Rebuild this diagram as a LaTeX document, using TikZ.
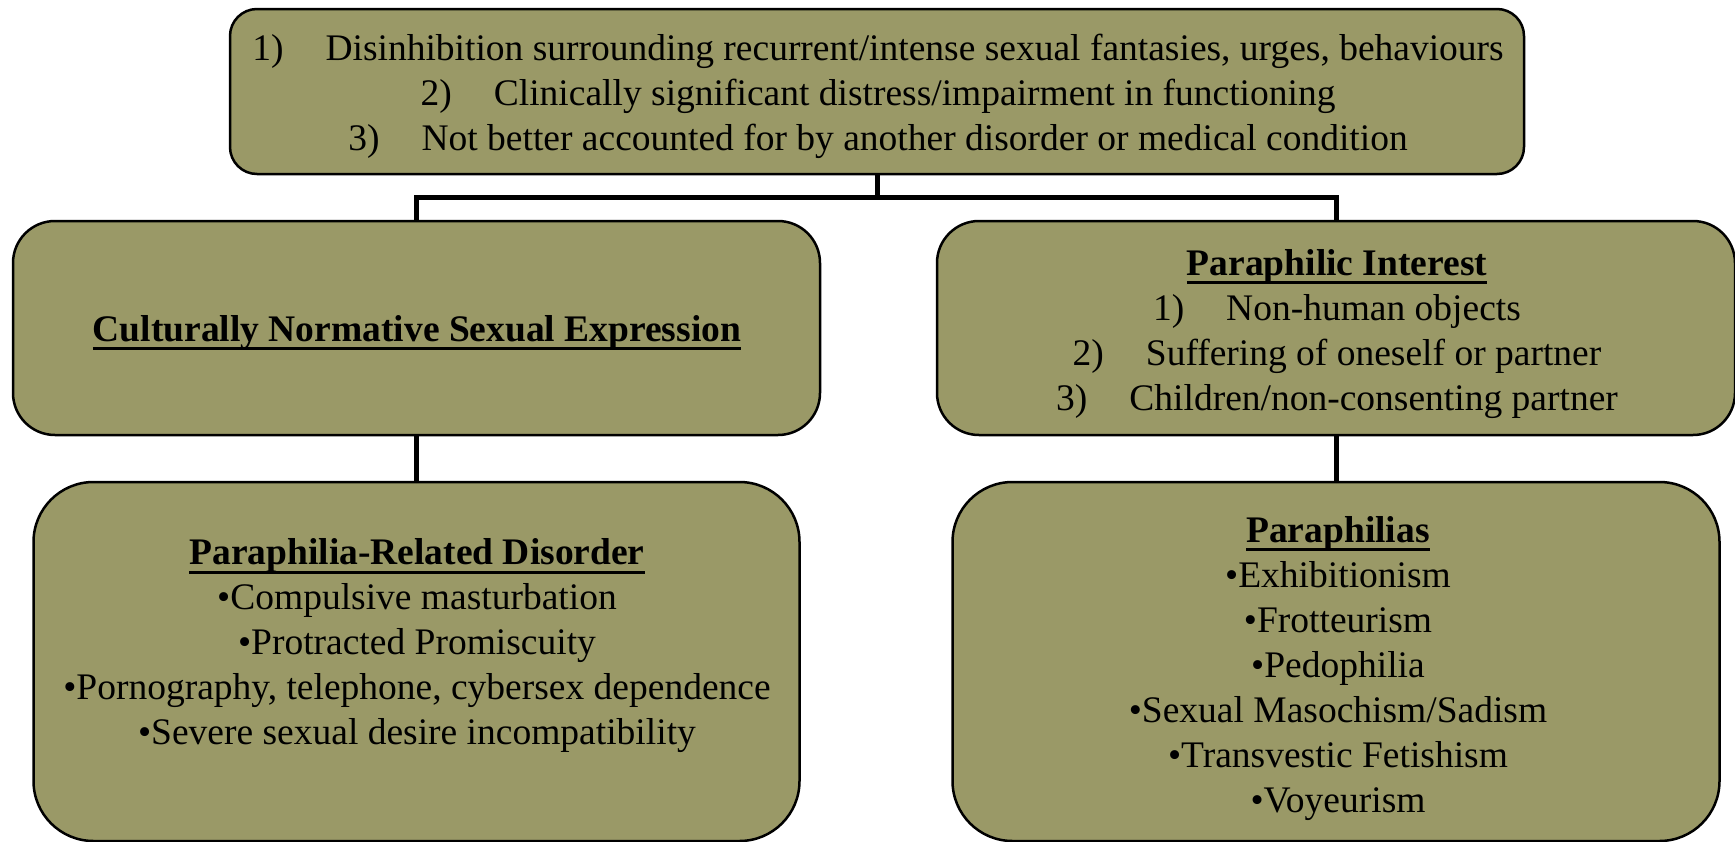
\documentclass[tikz,border=0pt]{standalone}
\usepackage{fontspec}
\setmainfont{Liberation Serif}
\usepackage{tikz}
\definecolor{olivebox}{RGB}{154,153,103}
\definecolor{linecolor}{named}{black}
\usetikzlibrary{calc}
\tikzset{rbox/.style={rectangle,draw=linecolor,fill=olivebox,line width=2.5pt,rounded corners=#1,inner sep=0pt}}
\tikzset{boxtext/.style={align=center,anchor=base,inner sep=0pt,font=\fontsize{37.5}{45}\selectfont}}
\tikzset{link/.style={linecolor,line width=5pt}}
\newcommand{\numitem}[1]{#1)\hspace{42pt}}
\newcommand{\ultitle}[1]{\setbox0\hbox{\bfseries #1}\rlap{\rule[-9pt]{\wd0}{2.6pt}}\box0}

\begin{document}
\begin{tikzpicture}[x=1pt,y=-1pt]
  \useasboundingbox (0,0) rectangle (1735,841);
  % Connectors
  \coordinate (split) at (877,197);
  \draw[link] (877,174) -- (split);
  \draw[link] (416.5,221) |- (split) -| (1336,221);
  \draw[link] (416.5,435) -- (416.5,482);
  \draw[link] (1336,435) -- (1336,482);

  % Boxes
  \node[rbox=27pt,minimum width=1294pt,minimum height=165pt] (top) at (877,91.5) {};
  \node[rbox=42pt,minimum width=807pt,minimum height=214pt] (cne) at (416.5,328) {};
  \node[rbox=42pt,minimum width=798pt,minimum height=214pt] (pint) at (1336,328) {};
  \node[rbox=60pt,minimum width=766pt,minimum height=359pt] (prd) at (416.5,661.5) {};
  \node[rbox=60pt,minimum width=767pt,minimum height=359pt] (phil) at (1336,661.5) {};

  % Labels (base = last line)
  \node[boxtext] (toptext) at (878,150) {\numitem{1}Disinhibition surrounding recurrent/intense sexual fantasies, urges, behaviours\\
    \numitem{2}Clinically significant distress/impairment in functioning\\
    \numitem{3}Not better accounted for by another disorder or medical condition};
  \node[boxtext] (cnetext) at (417,341) {\ultitle{Culturally Normative Sexual Expression}};
  \node[boxtext] (pinttext) at (1337,410) {\ultitle{Paraphilic Interest}\\
    \numitem{1}Non-human objects\\
    \numitem{2}Suffering of oneself or partner\\
    \numitem{3}Children/non-consenting partner};
  \node[boxtext] (prdtext) at (417,744.5) {\ultitle{Paraphilia-Related Disorder}\\
    \textbullet Compulsive masturbation\\
    \textbullet Protracted Promiscuity\\
    \textbullet Pornography, telephone, cybersex dependence\\
    \textbullet Severe sexual desire incompatibility};
  \node[boxtext] (philtext) at (1338,812) {\ultitle{Paraphilias}\\
    \textbullet Exhibitionism\\
    \textbullet Frotteurism\\
    \textbullet Pedophilia\\
    \textbullet Sexual Masochism/Sadism\\
    \textbullet Transvestic Fetishism\\
    \textbullet Voyeurism};
\end{tikzpicture}
\end{document}
